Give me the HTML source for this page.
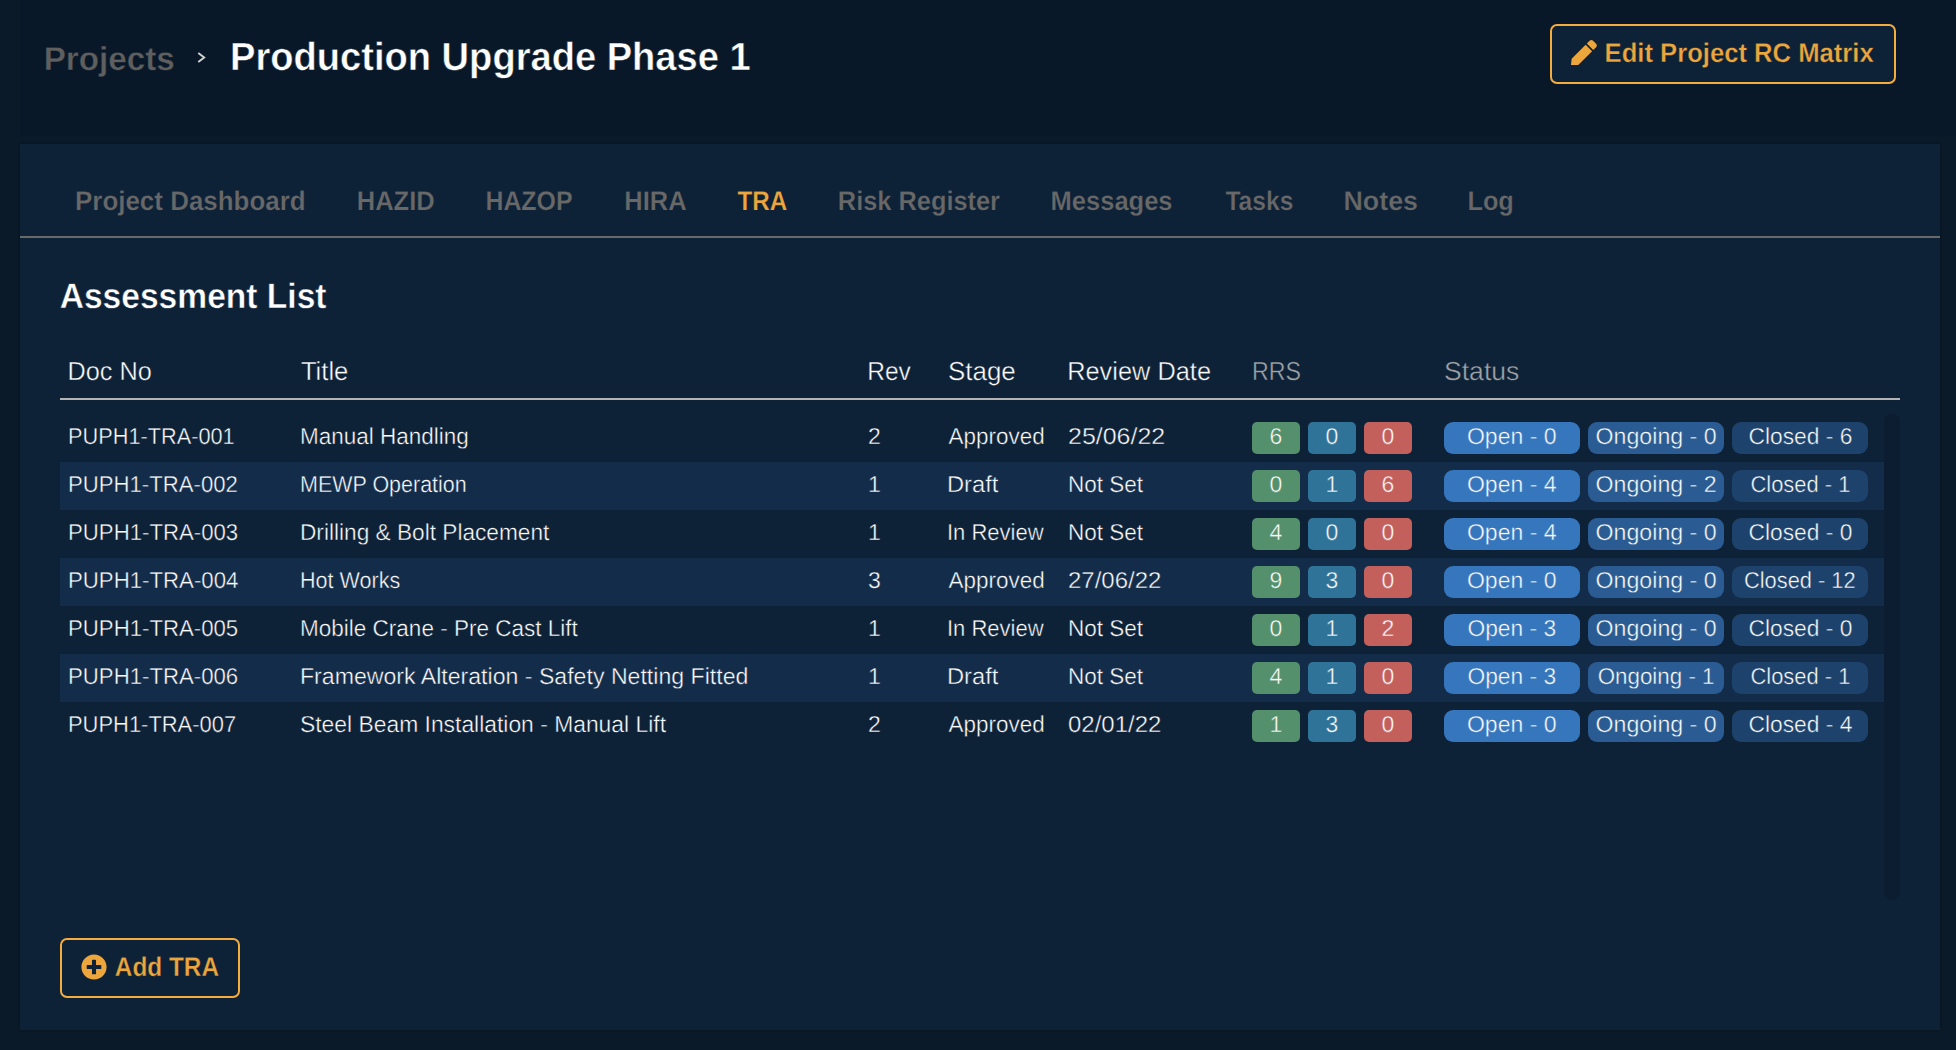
<!DOCTYPE html>
<html lang="en">
<head>
<meta charset="utf-8">
<title>Production Upgrade Phase 1 - TRA</title>
<style>
*{box-sizing:border-box;margin:0;padding:0}
html,body{width:1956px;height:1050px;overflow:hidden}
body{text-rendering:geometricPrecision;background:#0a1a28;font-family:"Liberation Sans",sans-serif;color:#fff;position:relative}
.topbar{position:absolute;left:20px;top:0;width:1936px;height:136px;background:#091828}
.crumb{-webkit-text-stroke:0.4px #091828;position:absolute;left:23px;top:39.7px;font-size:33.1px;line-height:40px;font-weight:bold;color:#5f5f5f;white-space:nowrap}
.chev{position:absolute;left:177px;top:52.4px;width:9px;height:11px}
.ptitle{-webkit-text-stroke:0.5px #091828;position:absolute;left:209px;top:32.9px;font-size:39.4px;line-height:48px;font-weight:bold;color:#fff;white-space:nowrap}
.btn{position:absolute;border:2px solid #f5ac3e;border-radius:7px;color:#eca63c;font-weight:bold;white-space:nowrap;background:#0d2137}
.btn-edit{left:1530px;top:24px;width:346px;height:60px}
.btn-add{left:40px;top:794px;width:180px;height:60px}
.btxt{-webkit-text-stroke:0.35px #0d2137;position:absolute;font-size:27.0px;line-height:30px}
.btxt-edit{left:53px;top:11.74px}
.btxt-add{left:52px;top:11.74px}
.ico-pen{position:absolute;left:19.2px;top:13.7px;width:25.8px;height:25.8px}
.ico-plus{position:absolute;left:19px;top:13.9px}
.panel{position:absolute;left:20px;top:144px;width:1920px;height:886px;background:#0d2137;box-shadow:0 0 3px rgba(0,0,0,.25)}
.tabs{position:absolute;left:0;top:0;width:1920px;height:94px;border-bottom:2px solid #696969}
.tab{-webkit-text-stroke:0.25px #0d2137;position:absolute;top:41.81px;font-size:26.8px;line-height:30px;font-weight:bold;color:#686868;white-space:nowrap}
.tab.on{color:#eca63c}
h2{-webkit-text-stroke:0.45px #0d2137;position:absolute;left:39px;top:132.9px;font-size:35.2px;line-height:40px;font-weight:bold;color:#fff;white-space:nowrap}
table{position:absolute;left:40px;top:200px;width:1840px;border-collapse:separate;border-spacing:0;table-layout:fixed}
th{height:56px;text-align:left;font-weight:normal;font-size:26.1px;color:#fcfdfd;-webkit-text-stroke:0.4px #0d2137;padding:0 0 0 8px;border-bottom:2px solid #b5b4b4;white-space:nowrap}
th.dim{color:#a0a4a8}
tbody tr.gap td{height:14px}
td{height:48px;font-size:23px;color:#fcfdfd;-webkit-text-stroke:0.4px #0d2137;padding:0 0 3px 8px;white-space:nowrap;vertical-align:middle}
tr.s td{background:#132c4a;-webkit-text-stroke-color:#132c4a}
tr.s td.nb{background:none}
.b{display:inline-block;position:relative;top:1.5px;width:48px;height:32px;line-height:29px;border-radius:5px;text-align:center;font-size:23px;color:#f8fafb;margin-right:8px;vertical-align:middle}
.g{background:#54906b;-webkit-text-stroke-color:#54906b}.bl{background:#2f7399;-webkit-text-stroke-color:#2f7399}.r{background:#c3605c;-webkit-text-stroke-color:#c3605c}
.p{display:inline-block;position:relative;top:1.5px;width:136px;height:32px;line-height:29px;border-radius:9px;text-align:center;font-size:23px;color:#f8fafb;margin-right:8px;vertical-align:middle}
.o{background:#3676bc;-webkit-text-stroke-color:#3676bc}.on2{background:#2a5b92;-webkit-text-stroke-color:#2a5b92}.c{background:#1d426c;-webkit-text-stroke-color:#1d426c}
.track{position:absolute;left:1864px;top:270px;width:16px;height:486px;border-radius:8px;background:#0c1d31}
.x{display:inline-block;transform-origin:0 50%}
.p .x{transform-origin:50% 50%}
</style>
</head>
<body>
<div class="topbar">
  <div class="crumb"><span id="crumb" class="x" style="transform:translateX(0.7px) scaleX(1.003)">Projects</span></div>
  <svg class="chev" viewBox="0 0 9 11"><path d="M1.3 1 L7.2 5.5 L1.3 10" fill="none" stroke="#d2d3d5" stroke-width="1.9"/></svg>
  <div class="ptitle"><span id="ptitle" class="x" style="transform:translateX(1.0px) scaleX(0.967)">Production Upgrade Phase 1</span></div>
  <div class="btn btn-edit">
    <svg class="ico-pen" width="26" height="26" viewBox="0 0 512 512"><path fill="#eca63c" d="M290.74 93.24l128.02 128.02-277.99 277.99-114.14 12.6C11.35 513.54-1.56 500.62.14 485.34l12.7-114.22 277.9-277.88zm207.2-19.06l-60.11-60.11c-18.75-18.75-49.16-18.75-67.91 0l-56.55 56.55 128.02 128.02 56.55-56.55c18.75-18.76 18.75-49.16 0-67.91z"/></svg>
    <div class="btxt btxt-edit"><span id="edit" class="x" style="transform:translateX(-0.4px) scaleX(0.949)">Edit Project RC Matrix</span></div>
  </div>
</div>
<div class="panel">
  <div class="tabs">
    <div class="tab" style="left:55.6px"><span id="tab0" class="x" style="transform:translateX(-1.0px) scaleX(0.968)">Project Dashboard</span></div>
    <div class="tab" style="left:336.8px"><span id="tab1" class="x" style="transform:translateX(-0.2px) scaleX(0.951)">HAZID</span></div>
    <div class="tab" style="left:466.2px"><span id="tab2" class="x" style="transform:translateX(-0.6px) scaleX(0.929)">HAZOP</span></div>
    <div class="tab" style="left:604.5px"><span id="tab3" class="x" style="transform:translateX(-0.7px) scaleX(0.951)">HIRA</span></div>
    <div class="tab on" style="left:716.2px"><span id="tab4" class="x" style="transform:translateX(1.6px) scaleX(0.902)">TRA</span></div>
    <div class="tab" style="left:818.4px"><span id="tab5" class="x" style="transform:translateX(-0.2px) scaleX(0.947)">Risk Register</span></div>
    <div class="tab" style="left:1030.8px"><span id="tab6" class="x" style="transform:translateX(-0.4px) scaleX(0.952)">Messages</span></div>
    <div class="tab" style="left:1203.7px"><span id="tab7" class="x" style="transform:translateX(1.4px) scaleX(0.918)">Tasks</span></div>
    <div class="tab" style="left:1323.4px"><span id="tab8" class="x" style="transform:translateX(0.1px)">Notes</span></div>
    <div class="tab" style="left:1447.7px"><span id="tab9" class="x" style="transform:translateX(-0.6px) scaleX(0.946)">Log</span></div>
  </div>
  <h2><span id="h2" class="x" style="transform:translateX(0.7px) scaleX(0.954)">Assessment List</span></h2>
  <table>
    <colgroup><col style="width:232px"><col style="width:568px"><col style="width:80px"><col style="width:120px"><col style="width:184px"><col style="width:192px"><col style="width:448px"><col style="width:16px"></colgroup>
    <thead><tr><th><span id="th0" class="x" style="transform:translateX(-0.6px) scaleX(0.969)">Doc No</span></th><th><span id="th1" class="x" style="transform:translateX(0.9px) scaleX(0.981)">Title</span></th><th><span id="th2" class="x" style="transform:translateX(-0.8px) scaleX(0.941)">Rev</span></th><th><span id="th3" class="x" style="transform:scaleX(0.994)">Stage</span></th><th><span id="th4" class="x" style="transform:translateX(-0.8px) scaleX(0.972)">Review Date</span></th><th class=dim><span id="th5" class="x" style="transform:scaleX(0.890)">RRS</span></th><th class=dim><span id="th6" class="x" style="transform:scaleX(1.019)">Status</span></th><th></th></tr></thead>
    <tbody>
      <tr class="gap"><td colspan="8"></td></tr>
      <tr><td><span id="d0" class="x" style="transform:scaleX(0.945)">PUPH1-TRA-001</span></td><td><span id="t0" class="x" style="transform:scaleX(0.978)">Manual Handling</span></td><td>2</td><td><span id="s0" class="x" style="transform:translateX(0.6px) scaleX(0.976)">Approved</span></td><td><span id="r0" class="x" style="transform:scaleX(1.086)">25/06/22</span></td><td><span class="b g">6</span><span class="b bl">0</span><span class="b r">0</span></td><td><span class="p o"><span id="p00" class="x" style="transform:scaleX(1.002)">Open - 0</span></span><span class="p on2"><span id="p01" class="x" style="transform:scaleX(1.008)">Ongoing - 0</span></span><span class="p c"><span id="p02" class="x" style="transform:scaleX(0.990)">Closed - 6</span></span></td><td class="nb"></td></tr>
      <tr class="s"><td><span id="d1" class="x" style="transform:scaleX(0.963)">PUPH1-TRA-002</span></td><td><span id="t1" class="x" style="transform:scaleX(0.934)">MEWP Operation</span></td><td>1</td><td><span id="s1" class="x" style="transform:translateX(-1.0px) scaleX(1.031)">Draft</span></td><td><span id="r1" class="x" style="transform:scaleX(0.978)">Not Set</span></td><td><span class="b g">0</span><span class="b bl">1</span><span class="b r">6</span></td><td><span class="p o"><span id="p10" class="x" style="transform:scaleX(1.002)">Open - 4</span></span><span class="p on2"><span id="p11" class="x" style="transform:scaleX(1.008)">Ongoing - 2</span></span><span class="p c"><span id="p12" class="x" style="transform:scaleX(0.952)">Closed - 1</span></span></td><td class="nb"></td></tr>
      <tr><td><span id="d2" class="x" style="transform:scaleX(0.965)">PUPH1-TRA-003</span></td><td><span id="t2" class="x" style="transform:scaleX(0.985)">Drilling &amp; Bolt Placement</span></td><td>1</td><td><span id="s2" class="x" style="transform:translateX(-1.0px) scaleX(0.957)">In Review</span></td><td><span id="r2" class="x" style="transform:scaleX(0.978)">Not Set</span></td><td><span class="b g">4</span><span class="b bl">0</span><span class="b r">0</span></td><td><span class="p o"><span id="p20" class="x" style="transform:scaleX(1.002)">Open - 4</span></span><span class="p on2"><span id="p21" class="x" style="transform:scaleX(1.008)">Ongoing - 0</span></span><span class="p c"><span id="p22" class="x" style="transform:scaleX(0.990)">Closed - 0</span></span></td><td class="nb"></td></tr>
      <tr class="s"><td><span id="d3" class="x" style="transform:scaleX(0.966)">PUPH1-TRA-004</span></td><td><span id="t3" class="x" style="transform:scaleX(0.937)">Hot Works</span></td><td>3</td><td><span id="s3" class="x" style="transform:translateX(0.6px) scaleX(0.976)">Approved</span></td><td><span id="r3" class="x" style="transform:scaleX(1.042)">27/06/22</span></td><td><span class="b g">9</span><span class="b bl">3</span><span class="b r">0</span></td><td><span class="p o"><span id="p30" class="x" style="transform:scaleX(1.002)">Open - 0</span></span><span class="p on2"><span id="p31" class="x" style="transform:scaleX(1.008)">Ongoing - 0</span></span><span class="p c"><span id="p32" class="x" style="transform:scaleX(0.949)">Closed - 12</span></span></td><td class="nb"></td></tr>
      <tr><td><span id="d4" class="x" style="transform:scaleX(0.965)">PUPH1-TRA-005</span></td><td><span id="t4" class="x" style="transform:scaleX(0.979)">Mobile Crane - Pre Cast Lift</span></td><td>1</td><td><span id="s4" class="x" style="transform:translateX(-1.0px) scaleX(0.957)">In Review</span></td><td><span id="r4" class="x" style="transform:scaleX(0.978)">Not Set</span></td><td><span class="b g">0</span><span class="b bl">1</span><span class="b r">2</span></td><td><span class="p o"><span id="p40" class="x" style="transform:scaleX(0.991)">Open - 3</span></span><span class="p on2"><span id="p41" class="x" style="transform:scaleX(1.008)">Ongoing - 0</span></span><span class="p c"><span id="p42" class="x" style="transform:scaleX(0.990)">Closed - 0</span></span></td><td class="nb"></td></tr>
      <tr class="s"><td><span id="d5" class="x" style="transform:scaleX(0.965)">PUPH1-TRA-006</span></td><td><span id="t5" class="x" style="transform:scaleX(1.005)">Framework Alteration - Safety Netting Fitted</span></td><td>1</td><td><span id="s5" class="x" style="transform:translateX(-1.0px) scaleX(1.031)">Draft</span></td><td><span id="r5" class="x" style="transform:scaleX(0.978)">Not Set</span></td><td><span class="b g">4</span><span class="b bl">1</span><span class="b r">0</span></td><td><span class="p o"><span id="p50" class="x" style="transform:scaleX(0.991)">Open - 3</span></span><span class="p on2"><span id="p51" class="x" style="transform:scaleX(0.972)">Ongoing - 1</span></span><span class="p c"><span id="p52" class="x" style="transform:scaleX(0.952)">Closed - 1</span></span></td><td class="nb"></td></tr>
      <tr><td><span id="d6" class="x" style="transform:scaleX(0.953)">PUPH1-TRA-007</span></td><td><span id="t6" class="x" style="transform:scaleX(0.994)">Steel Beam Installation - Manual Lift</span></td><td>2</td><td><span id="s6" class="x" style="transform:translateX(0.6px) scaleX(0.976)">Approved</span></td><td><span id="r6" class="x" style="transform:scaleX(1.042)">02/01/22</span></td><td><span class="b g">1</span><span class="b bl">3</span><span class="b r">0</span></td><td><span class="p o"><span id="p60" class="x" style="transform:scaleX(1.002)">Open - 0</span></span><span class="p on2"><span id="p61" class="x" style="transform:scaleX(1.008)">Ongoing - 0</span></span><span class="p c"><span id="p62" class="x" style="transform:scaleX(0.990)">Closed - 4</span></span></td><td class="nb"></td></tr>
    </tbody>
  </table>
  <div class="track"></div>
  <div class="btn btn-add">
    <svg class="ico-plus" width="26" height="26" viewBox="0 0 512 512"><path fill="#eca63c" d="M256 8C119 8 8 119 8 256s111 248 248 248 248-111 248-248S393 8 256 8zm144 276c0 6.600-5.400 12-12 12h-92v92c0 6.600-5.400 12-12 12h-56c-6.600 0-12-5.400-12-12v-92h-92c-6.600 0-12-5.400-12-12v-56c0-6.600 5.400-12 12-12h92v-92c0-6.600 5.400-12 12-12h56c6.600 0 12 5.400 12 12v92h92c6.600 0 12 5.400 12 12v56z"/></svg>
    <div class="btxt btxt-add"><span id="add" class="x" style="transform:translateX(0.8px) scaleX(0.903)">Add TRA</span></div>
  </div>
</div>
</body>
</html>
